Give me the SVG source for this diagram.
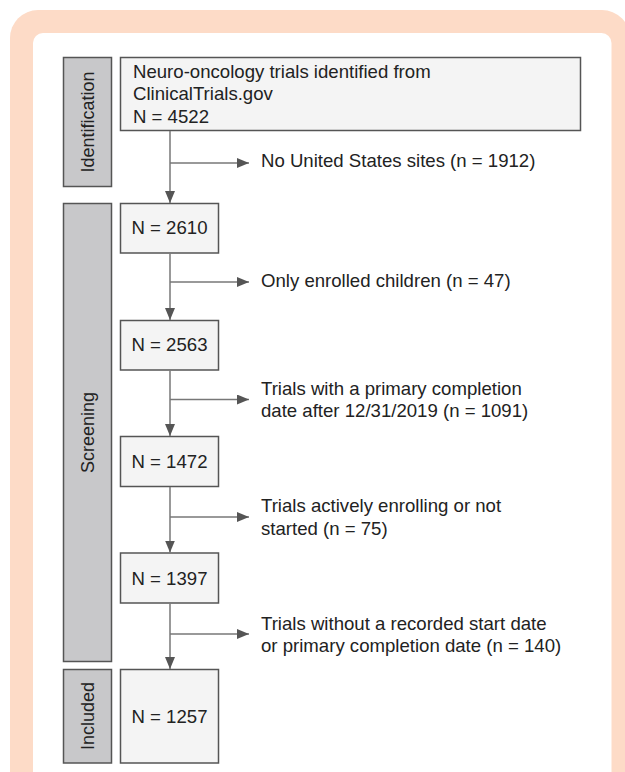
<svg xmlns="http://www.w3.org/2000/svg" width="625" height="772" viewBox="0 0 625 772">
<style>
text{font-family:"Liberation Sans",Arial,sans-serif;font-size:18.6px;fill:#222}
text.rot{font-size:18px}
.lab{fill:#c8c8ca;stroke:#555;stroke-width:1.5}
.box{fill:#f4f4f4;stroke:#555;stroke-width:1.5}
.con{stroke:#777;stroke-width:1.5;fill:none}
</style>
<defs>
<marker id="ah" viewBox="0 0 12 10" refX="12" refY="5" markerWidth="12" markerHeight="10" markerUnits="userSpaceOnUse" orient="auto">
<path d="M0,0 L12,5 L0,10 Z" fill="#555"/>
</marker>
</defs>
<rect x="10" y="10" width="620" height="800" rx="28" fill="#fddbc7"/>
<rect x="33" y="33" width="578.5" height="780" rx="10" fill="#fff"/>

<g id="label-identification">
<rect class="lab" x="63.5" y="57.5" width="48" height="129"/>
<text class="rot" transform="translate(93.5,122) rotate(-90)" text-anchor="middle">Identification</text>
</g>
<g id="label-screening">
<rect class="lab" x="63.5" y="203.5" width="48" height="458"/>
<text class="rot" transform="translate(93.5,432.5) rotate(-90)" text-anchor="middle">Screening</text>
</g>
<g id="label-included">
<rect class="lab" x="63.5" y="669.5" width="48" height="93.5"/>
<text class="rot" transform="translate(93.5,716) rotate(-90)" text-anchor="middle">Included</text>
</g>

<g id="node-identified">
<rect class="box" x="120.5" y="57.5" width="460" height="73"/>
<text x="133" y="78">Neuro-oncology trials identified from</text>
<text x="133" y="100">ClinicalTrials.gov</text>
<text x="133" y="122.5">N = 4522</text>
</g>
<g id="node-2610">
<rect class="box" x="120.5" y="203.5" width="98" height="49.5"/>
<text x="169.5" y="233.5" text-anchor="middle">N = 2610</text>
</g>
<g id="node-2563">
<rect class="box" x="120.5" y="320.5" width="98" height="49.5"/>
<text x="169.5" y="351" text-anchor="middle">N = 2563</text>
</g>
<g id="node-1472">
<rect class="box" x="120.5" y="436.5" width="98" height="50"/>
<text x="169.5" y="468" text-anchor="middle">N = 1472</text>
</g>
<g id="node-1397">
<rect class="box" x="120.5" y="553" width="98" height="50"/>
<text x="169.5" y="584.5" text-anchor="middle">N = 1397</text>
</g>
<g id="node-1257">
<rect class="box" x="120.5" y="669.5" width="98" height="93.5"/>
<text x="169.5" y="723" text-anchor="middle">N = 1257</text>
</g>

<g id="excl-1">
<text x="261" y="167">No United States sites (n = 1912)</text>
</g>
<g id="excl-2">
<text x="261" y="286.5">Only enrolled children (n = 47)</text>
</g>
<g id="excl-3">
<text x="261" y="394.5">Trials with a primary completion</text>
<text x="261" y="416.5">date after 12/31/2019 (n = 1091)</text>
</g>
<g id="excl-4">
<text x="261" y="512">Trials actively enrolling or not</text>
<text x="261" y="534.5">started (n = 75)</text>
</g>
<g id="excl-5">
<text x="261" y="629.5">Trials without a recorded start date</text>
<text x="261" y="652">or primary completion date (n = 140)</text>
</g>

<g id="connectors">
<line class="con" x1="170" y1="131" x2="170" y2="203" marker-end="url(#ah)"/>
<line class="con" x1="170" y1="163" x2="249" y2="163" marker-end="url(#ah)"/>
<line class="con" x1="170" y1="253.5" x2="170" y2="320" marker-end="url(#ah)"/>
<line class="con" x1="170" y1="282" x2="249" y2="282" marker-end="url(#ah)"/>
<line class="con" x1="170" y1="370.5" x2="170" y2="436" marker-end="url(#ah)"/>
<line class="con" x1="170" y1="399.5" x2="249" y2="399.5" marker-end="url(#ah)"/>
<line class="con" x1="170" y1="487" x2="170" y2="552.5" marker-end="url(#ah)"/>
<line class="con" x1="170" y1="517" x2="249" y2="517" marker-end="url(#ah)"/>
<line class="con" x1="170" y1="603.5" x2="170" y2="669" marker-end="url(#ah)"/>
<line class="con" x1="170" y1="634" x2="249" y2="634" marker-end="url(#ah)"/>
</g>
</svg>
